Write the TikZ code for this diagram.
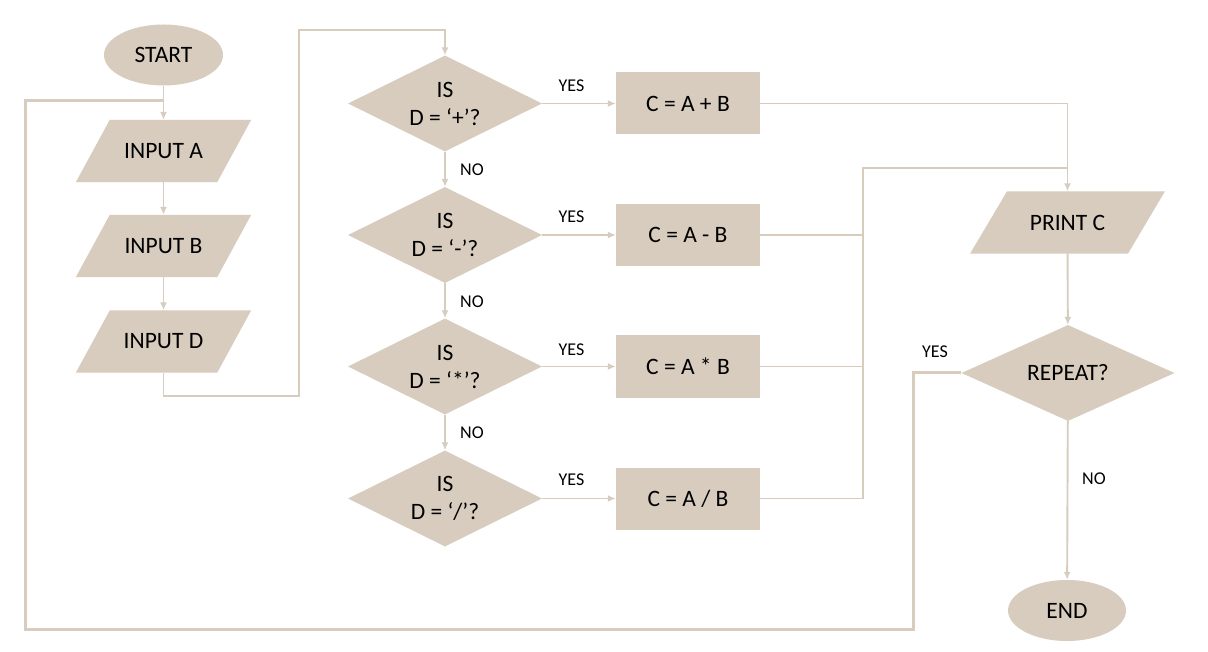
\documentclass[tikz,border=0pt]{standalone}
\usepackage{fontspec}
\setmainfont{Carlito}
\usetikzlibrary{shapes.geometric,arrows.meta,backgrounds,calc}
\definecolor{beige}{RGB}{215,204,190}
\tikzset{
 base/.style={fill=beige, text=black, font=\fontsize{23.5}{28}\selectfont, inner sep=0pt, align=center},
 term/.style={base, ellipse, minimum width=119pt, minimum height=61pt},
 para/.style={base, rectangle, fill=none, minimum width=141pt, minimum height=62pt},
 proc/.style={base, rectangle, minimum width=144pt, minimum height=62pt},
 dec/.style={base, diamond, aspect=2.02, minimum width=194pt, minimum height=96pt},
 lbl/.style={font=\fontsize{18}{20}\selectfont, inner sep=0pt},
 conn/.style={draw=beige, line width=1.9pt},
 arr/.style={conn, -{Latex[length=8pt,width=7pt]}},
 loopline/.style={draw=beige, line width=3pt},
}
\newcommand{\parafill}[2]{\fill[beige] ($(#1.south west)+(-#2,0)$) -- ($(#1.south east)+(-#2,0)$) -- ($(#1.north east)+(#2,0)$) -- ($(#1.north west)+(#2,0)$) -- cycle;}
\begin{document}
\begin{tikzpicture}[x=1pt,y=-1pt]
\useasboundingbox (0,0) rectangle (1208,652);
% left column
\node[term] (start) at (163.5,55) {START};
\node[para] (ia) at (163.5,151) {INPUT A};
\node[para] (ib) at (163.5,246) {INPUT B};
\node[para] (id) at (163.5,341.5) {INPUT D};
% decisions
\node[dec] (d1) at (445,103.5) {IS\\D = ‘+’?};
\node[dec] (d2) at (445,235) {IS\\D = ‘-’?};
\node[dec] (d3) at (445,366.5) {IS\\D = ‘*’?};
\node[dec] (d4) at (445,498.5) {IS\\D = ‘/’?};
% processes
\node[proc] (b1) at (688,103.5) {C = A + B};
\node[proc] (b2) at (688,235) {C = A - B};
\node[proc] (b3) at (688,366.5) {C = A * B};
\node[proc] (b4) at (688,498.5) {C = A / B};
% right column
\node[para, minimum width=157.5pt] (pc) at (1067.5,222.5) {PRINT C};
\node[dec, minimum width=213pt] (rep) at (1068,373) {REPEAT?};
\node[term, minimum width=118pt] (end) at (1067,610.5) {END};
% labels
\node[lbl] (y1) at (571.5,86) {YES};
\node[lbl] (y2) at (571.5,217) {YES};
\node[lbl] (y3) at (571.5,350) {YES};
\node[lbl] (y4) at (571.5,480) {YES};
\node[lbl] (n1) at (472,170) {NO};
\node[lbl] (n2) at (472,302) {NO};
\node[lbl] (n3) at (472,433) {NO};
\node[lbl] (y5) at (935,352) {YES};
\node[lbl] (n4) at (1094,479) {NO};
% coordinates
\coordinate (T1) at (299,396);
\coordinate (T2) at (299,30);
\coordinate (J) at (863,168);
\coordinate (L1) at (913,629);
\coordinate (L2) at (25,629);
\coordinate (L3) at (25,101);
\coordinate (L4) at (163.5,101);
% connectors
\draw[loopline] (rep.west) -| (L1) -- (L2) -- (L3) -- (L4);
\draw[arr] (start) -- (ia);
\draw[arr] (ia) -- (ib);
\draw[arr] (ib) -- (id);
\draw[arr] (id.south) |- (T1) -- (T2) -| (d1.north);
\draw[arr] (d1) -- (d2);
\draw[arr] (d2) -- (d3);
\draw[arr] (d3) -- (d4);
\draw[arr] (d1) -- (b1);
\draw[arr] (d2) -- (b2);
\draw[arr] (d3) -- (b3);
\draw[arr] (d4) -- (b4);
\draw[arr] (b1.east) -| (pc.north);
\draw[conn] (b4.east) -| (J) -- (J -| pc.north);
\draw[conn] (b2.east) -- (b2.east -| J);
\draw[conn] (b3.east) -- (b3.east -| J);
\draw[arr] (pc) -- (rep);
\draw[arr] (rep) -- (end);
% parallelogram bodies
\begin{scope}[on background layer]
\fill[white] (0,0) rectangle (1208,652);
\parafill{ia}{17}
\parafill{ib}{17}
\parafill{id}{17}
\parafill{pc}{18.5}
\end{scope}
\end{tikzpicture}
\end{document}
